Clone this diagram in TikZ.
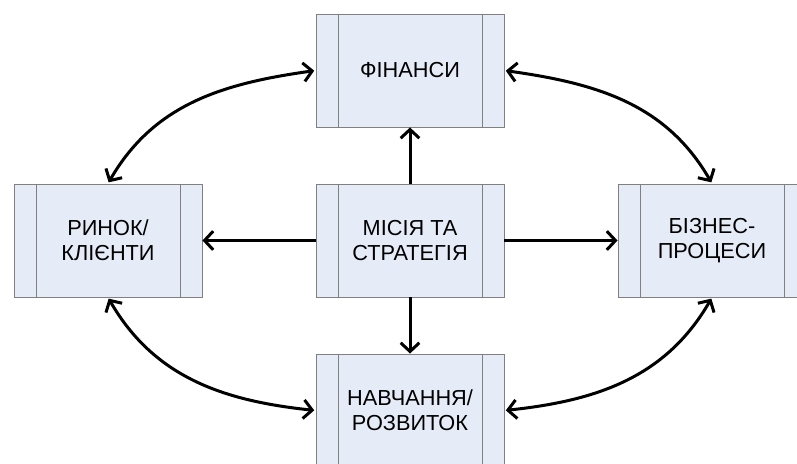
\documentclass[tikz,border=0pt]{standalone}
\usepackage{fontspec}
\setmainfont{Liberation Sans}
\usepackage{tikz}
\usetikzlibrary{arrows.meta}

\definecolor{boxfill}{RGB}{230,236,247}
\definecolor{boxline}{RGB}{128,128,128}

\tikzset{
  proc/.style={draw=boxline, fill=boxfill, line width=0.7pt,
    minimum width=141pt, minimum height=84.75pt, align=center,
    font=\fontsize{16.3}{19}\selectfont,
    path picture={
      \draw[boxline, line width=0.7pt]
        ([xshift=16.5pt]path picture bounding box.north west) -- ([xshift=16.5pt]path picture bounding box.south west)
        ([xshift=-16.5pt]path picture bounding box.north east) -- ([xshift=-16.5pt]path picture bounding box.south east);
    }},
  link/.style={line width=2.25pt, {Straight Barb[length=6.5pt,width=14pt]}-{Straight Barb[length=6.5pt,width=14pt]}, shorten <=1pt, shorten >=1pt},
  arr/.style={line width=2.25pt, -{Straight Barb[length=6.5pt,width=14pt]}}
}

\begin{document}
\begin{tikzpicture}[x=0.75pt, y=0.75pt]
            \useasboundingbox (0,0) rectangle (797,464);
            \clip (0,0) rectangle (797,464);
            \node[proc] (fin) at (410,393.5) {ФІНАНСИ};
            \node[proc] (mis) at (410,223.5) {МІСІЯ ТА\\СТРАТЕГІЯ};
            \node[proc] (mkt) at (108,223.5) {РИНОК/\\КЛІЄНТИ};
            \node[proc] (bus) at (712,223.5) {БІЗНЕС-\\ПРОЦЕСИ};
            \node[proc] (edu) at (410,53.5) {НАВЧАННЯ/\\РОЗВИТОК};
            \draw[arr] (mis) -- (fin);
            \draw[arr] (mis) -- (mkt);
            \draw[arr] (mis) -- (bus);
            \draw[arr] (mis) -- (edu);
            \draw[link] (fin.west) to[out=188,in=60] (mkt.north);
            \draw[link] (fin.east) to[out=-8,in=120] (bus.north);
            \draw[link] (mkt.south) to[out=-60,in=174] (edu.west);
            \draw[link] (bus.south) to[out=240,in=6] (edu.east);
        \end{tikzpicture}
\end{document}
